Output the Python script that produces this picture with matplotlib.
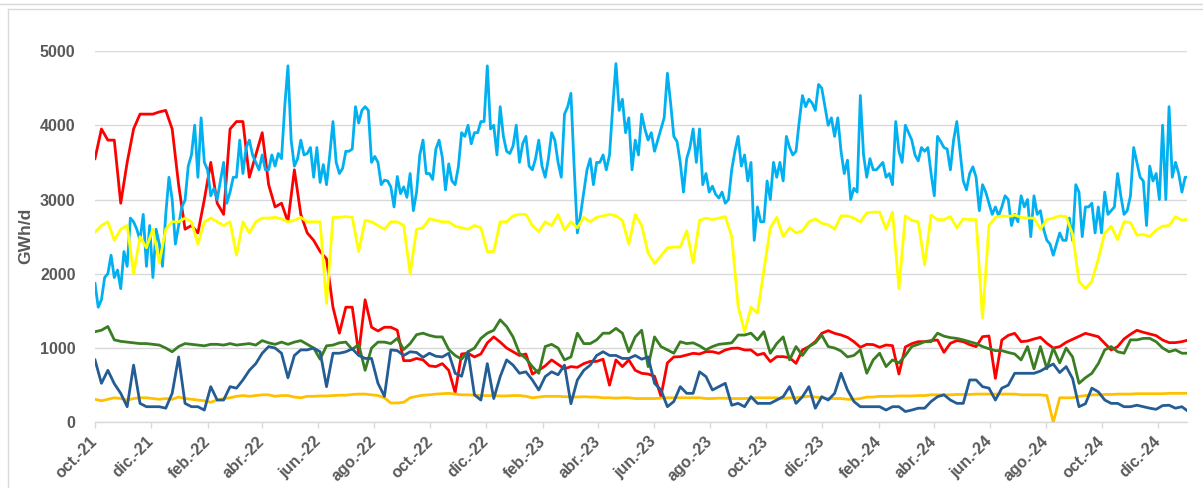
import matplotlib
matplotlib.use('Agg')
import matplotlib.pyplot as plt
import pandas as pd
from matplotlib.lines import Line2D

plt.rcParams['font.family'] = ['Liberation Sans', 'DejaVu Sans']

# ---------------- data (GWh/d) ----------------
start = '2021-10-01'

# weekly series (171 points, every 7 days from 1 Oct 2021)
red = [3550, 3950, 3800, 3800, 2950, 3500, 3950, 4150, 4150, 4150, 4180, 4200, 3950, 3200,
       2600, 2650, 2550, 3000, 3500, 2950, 2800, 3950, 4050, 4050, 3300, 3600, 3900, 3200,
       2900, 2950, 2700, 3400, 2800, 2550, 2450, 2300, 2200, 1550, 1200, 1550, 1550, 930,
       1650, 1280, 1230, 1280, 1280, 1240, 830, 830, 860, 840, 760, 750, 790, 700, 400, 920,
       930, 880, 920, 1070, 1150, 1080, 1000, 950, 900, 920, 650, 700, 760, 840, 780, 720,
       750, 740, 790, 820, 820, 850, 500, 840, 750, 840, 700, 660, 650,
       620, 350, 800, 880, 884, 906, 929, 920, 951, 951, 929, 974, 996, 1000, 974, 974,
       906, 929, 817, 884, 884, 870, 794, 974, 1019, 1086, 1198, 1234, 1198,
       1176, 1144, 1086, 1010, 1050, 1046, 1010, 1041, 1032, 650, 1014, 1059, 1086, 1086,
       1100, 1108, 942, 1064, 1100, 1086, 1046, 1019, 1153, 1162, 592, 1108, 1171, 1198,
       1086, 1095, 1122, 1144, 1064, 1000, 1019, 1077, 1117, 1158, 1198, 1176, 1153, 1064,
       974, 1019, 1122, 1185, 1239, 1212, 1189, 1167, 1108, 1073, 1073, 1086, 1108]

yellow = [2560, 2650, 2700, 2450, 2600, 2650, 2000, 2500, 2350, 2600, 2150, 2600, 2700, 2700,
          2750, 2700, 2400, 2700, 2750, 2700, 2650, 2700, 2250, 2700, 2550, 2700, 2750, 2750,
          2760, 2740, 2700, 2720, 2760, 2700, 2700, 2700, 1600, 2760, 2760, 2770, 2760, 2300,
          2720, 2700, 2650, 2600, 2700, 2700, 2650, 2000, 2600, 2620, 2740, 2720, 2700, 2700,
          2640, 2620,
          2600, 2650, 2620, 2300, 2300, 2700, 2700, 2780, 2800, 2800, 2650, 2570, 2700, 2650,
          2800, 2590, 2700, 2620, 2760, 2700, 2760, 2780, 2800, 2780, 2720, 2400, 2800, 2650,
          2280,
          2140, 2240, 2350, 2360, 2360, 2580, 2150, 2720, 2750, 2730, 2750, 2770, 2500, 1560,
          1220, 1550, 1470, 2050, 2620, 2760, 2500, 2620, 2550, 2580, 2700, 2740, 2680, 2660,
          2600,
          2780, 2780, 2750, 2700, 2820, 2830, 2830, 2600, 2830, 1800, 2780, 2720, 2700, 2120,
          2790, 2730, 2730, 2770, 2620, 2740, 2730, 2730, 1400, 2650, 2760, 2780, 2770, 2790,
          2760, 2750, 2750, 2600, 2730, 2750, 2780, 2770, 2530, 1900, 1800, 1900, 2200, 2550,
          2640, 2460, 2700, 2690, 2520, 2530, 2500, 2590, 2640, 2650, 2770, 2720, 2740]

green = [1220, 1240, 1290, 1110, 1090, 1080, 1070, 1060, 1060, 1050, 1040, 1000, 950, 1020,
         1060, 1050, 1040, 1030, 1050, 1050, 1040, 1060, 1040, 1050, 1060, 1040, 1100, 1070,
         1050, 1080, 1050, 1080, 1100, 1050, 1000, 850, 1030, 1040, 1070, 1080, 980, 1050,
         700, 1000, 1080, 1080, 1060, 1130, 980, 1060, 1180, 1200, 1170, 1150, 1150, 980,
         900, 850,
         950, 1000, 1130, 1200, 1240, 1380, 1290, 1150, 930, 860, 750, 660, 1020, 1050,
         1000, 840, 880, 1200, 1060, 1060, 1110, 1200, 1200, 1265, 1200, 950, 1150, 1240,
         750,
         1150, 1020, 975, 930, 1085, 1060, 1070, 1030, 975, 1020, 1050, 1060, 1070, 1175,
         1175, 1200, 1110, 1220, 930, 1060, 1150, 840, 1020, 900, 1020, 1070, 1175, 1020,
         1000,
         960, 880, 900, 975, 660, 840, 930, 750, 840, 800, 900, 1020, 1050, 1085,
         1085, 1200, 1160, 1140, 1130, 1110, 1085, 1060, 1020, 990, 965, 965, 940, 920,
         840, 1020, 720, 1020, 720, 1000, 800, 1000, 880, 525, 600, 660, 790, 975,
         1020, 950, 930, 1110, 1110, 1130, 1130, 1085, 1000, 950, 975, 930, 930]

dark_blue = [840, 525, 700, 520, 390, 210, 770, 255, 210, 210, 210, 190, 390, 880,
             255, 210, 210, 165, 480, 300, 300, 480, 460, 570, 700, 790, 930, 1020,
             1000, 930, 600, 900, 975, 975, 1000, 950, 480, 930, 930, 950, 990, 900,
             860, 860, 525, 350, 975, 965, 900, 950, 940, 875, 930, 890, 880, 930,
             660, 620,
             950, 370, 300, 790, 320, 615, 840, 770, 660, 680, 570, 435, 615, 680,
             640, 770, 250, 570, 700, 770, 900, 950, 900, 900, 860, 860, 900, 850,
             880,
             525, 435, 210, 280, 480, 390, 390, 680, 615, 435, 480, 525, 230, 255,
             210, 345, 255, 255, 255, 300, 345, 480, 255, 345, 480, 190, 345, 300,
             390,
             660, 435, 280, 210, 210, 210, 210, 165, 210, 210, 145, 165, 190, 190,
             280, 345, 370, 300, 255, 255, 570, 570, 480, 460, 300, 460, 500, 660,
             660, 660, 660, 690, 740, 785, 670, 750, 590, 210, 250, 460, 410, 300,
             255, 255, 210, 210, 230, 210, 190, 175, 225, 230, 190, 210, 145]

orange = [310, 290, 310, 330, 320, 300, 320, 330, 330, 320, 310, 320, 310, 340,
          320, 310, 300, 290, 270, 300, 320, 330, 350, 360, 350, 360, 370, 370,
          350, 360, 360, 340, 330, 350, 350, 355, 355, 360, 365, 365, 375, 380,
          380, 370, 360, 330, 260, 260, 270, 330, 350, 365, 370, 380, 385, 390,
          380, 370,
          370, 365, 360, 360, 360, 355, 355, 360, 360, 350, 330, 340, 350, 350,
          350, 345, 345, 340, 345, 340, 340, 330, 330, 325, 330, 330, 320, 320,
          320,
          320, 325, 330, 330, 330, 330, 330, 330, 320, 320, 325, 325, 320, 320,
          320, 325, 330, 330, 330, 330, 320, 330, 330, 340, 350, 340, 330, 320,
          320,
          320, 310, 310, 320, 340, 340, 350, 350, 350, 355, 355, 355, 360, 360,
          370, 370, 370, 370, 375, 375, 375, 380, 380, 380, 380, 380, 380, 380,
          370, 370, 370, 370, 360, 0, 330, 330, 330, 350, 360, 370, 370, 375,
          375, 380, 380, 380, 385, 385, 385, 385, 385, 390, 390, 390, 390]

# light-blue series, twice-weekly samples (341 points, every 3.5 days)
light_blue = [1870, 1550, 1650, 1950, 2000, 2250, 1950, 2050, 1800, 2300, 2100, 2750, 2700, 2600,
              2450, 2800, 2100, 2650, 1950, 2600, 2400, 2100, 2800, 3300, 3000, 2400, 2650, 2900,
              2990, 3450, 3600, 4000, 3300, 4100, 3500, 3400, 3050, 3150, 3000, 3250, 3500, 2950,
              3100, 3300, 3300, 3800, 3350, 3700, 3800, 3600, 3500, 3400, 3600, 3400, 3400, 3600,
              3450,
              3620, 3550, 4250, 4800, 3800, 3450, 3550, 3800, 3600, 3620, 3700, 3300, 3700, 3230,
              3470, 3200, 3600, 4050, 3500, 3350, 3420, 3650, 3650, 3680, 4250, 4030, 4200, 4250,
              4200, 3500, 3580, 3500, 3200, 3260, 3250, 3170, 2900, 3310, 3080, 3170, 3030, 3350,
              2850, 3100, 3600, 3800, 3350, 3350, 3270, 3680, 3800, 3570, 3130, 3480, 3250, 3200,
              3440,
              3900, 3850, 4000, 3750, 3900, 3900, 4050, 4050, 4800, 3950, 4000, 3600, 4250, 3850,
              3650, 3620, 3720, 4000, 3500, 3750, 3850, 3450, 3400, 3550, 3800, 3450, 3300, 3550,
              3900, 3800, 3500, 3300, 4150, 4250, 4430, 3440, 2550, 2800, 3100, 3400, 3550, 3200,
              3500, 3500, 3600, 3400, 3600, 4250, 4830, 4200, 4350, 3900, 4100, 3400, 3800, 3600,
              4150, 3950, 3800,
              3900, 3650, 3800, 3950, 4100, 4700, 4300, 3850, 3780, 3500, 3100, 3550, 3700, 3950,
              3500, 3950, 3200, 3350, 3100, 3180, 3070, 3020, 3100, 2950, 3000, 3400, 3650, 3850,
              3450, 3600, 3250, 3500, 2450, 2900, 2700, 2700, 3250, 3000, 3500, 3300, 3500, 3250,
              3850, 3700, 3600, 3650, 4050, 4400, 4250, 4350, 4300, 4200, 4550, 4500, 4250, 4000,
              4100,
              3850, 4100, 3650, 3350, 3530, 3000, 3150, 3100, 4400, 3600, 3300, 3550, 3400, 3400,
              3450, 3500, 3300, 3350, 3200, 4050, 3650, 3500, 4000, 3900, 3800, 3600, 3520, 3700,
              3650, 3700, 3350, 3050, 3850, 3780, 3700, 3680, 3400, 3800, 4050, 3650, 3250, 3130,
              3350, 3440, 3300, 2850, 3200, 3100, 2950, 2800, 2900, 2780, 2900, 3050, 3000, 2650,
              2800, 2700,
              3050, 2900, 3000, 2500, 3050, 2800, 2850, 2600, 2450, 2400, 2250, 2400, 2550, 2450,
              2450, 2750, 2450, 3200, 3100, 2500, 2900, 2900, 2950, 2550, 2900, 2550, 3100, 2800,
              2850, 2900, 3350, 3050, 2800, 2850, 3050, 3700, 3500, 3300, 3250, 2650, 3450, 3250,
              3350, 3000, 4000, 3000, 4250, 3300, 3500, 3350, 3100, 3300, 3300]

tick_labels = ['oct.-21', 'dic.-21', 'feb.-22', 'abr.-22', 'jun.-22', 'ago.-22', 'oct.-22',
               'dic.-22', 'feb.-23', 'abr.-23', 'jun.-23', 'ago.-23', 'oct.-23', 'dic.-23',
               'feb.-24', 'abr.-24', 'jun.-24', 'ago.-24', 'oct.-24', 'dic.-24']

weekly_dates = pd.date_range(start, periods=len(red), freq='7D')
lb_dates = pd.date_range(start, periods=len(light_blue), freq='84h')
tick_dates = pd.date_range(start, periods=len(tick_labels), freq='2MS')

# ---------------- figure ----------------
W, H = 1203, 488
fig = plt.figure(figsize=(W / 100, H / 100), dpi=100)
ax = fig.add_axes([95 / W, (H - 422.3) / H, (1186.5 - 95) / W, (422.3 - 51) / H])

lw = 2.0
ax.plot(weekly_dates, red, color='#FF0000', lw=lw, zorder=3)
ax.plot(lb_dates, light_blue, color='#00B0F0', lw=lw, zorder=3)
ax.plot(weekly_dates, yellow, color='#FFFF00', lw=lw, zorder=3)
ax.plot(weekly_dates, green, color='#3A7D22', lw=lw, zorder=3)
ax.plot(weekly_dates, orange, color='#FFC000', lw=lw, zorder=3)
ax.plot(weekly_dates, dark_blue, color='#245C94', lw=lw, zorder=3)

ax.set_xlim(pd.Timestamp(start), pd.Timestamp(start) + pd.Timedelta(days=1188))
ax.set_ylim(0, 5000)
ax.set_yticks(range(0, 5001, 1000))
ax.yaxis.grid(True, color='#D9D9D9', lw=1)
ax.set_axisbelow(True)
for s in ['top', 'right', 'left']:
    ax.spines[s].set_visible(False)
ax.spines['bottom'].set_color('#D9D9D9')
ax.spines['bottom'].set_linewidth(1)

ax.set_xticks(tick_dates)
ax.set_xticklabels(tick_labels, rotation=45, ha='right', va='center',
                   rotation_mode='anchor', fontweight='bold')
ax.tick_params(axis='x', length=4, color='#D9D9D9', width=1, pad=8,
               labelsize=11.5, labelcolor='#595959')
ax.tick_params(axis='y', length=0, pad=14, labelsize=11.5, labelcolor='#595959')
for t in ax.get_yticklabels():
    t.set_fontweight('bold')

fig.text(26 / W, 1 - 236 / H, 'GWh/d', rotation=90, ha='center', va='center',
         fontsize=12.5, fontweight='bold', color='#595959')

# chart borders
fig.add_artist(Line2D([8 / W, 8 / W], [0, 1 - 9 / H], transform=fig.transFigure,
                      color='#D9D9D9', lw=1))
fig.add_artist(Line2D([8 / W, 1], [1 - 9 / H, 1 - 9 / H], transform=fig.transFigure,
                      color='#D9D9D9', lw=1))
fig.add_artist(Line2D([0, 1], [1 - 4 / H, 1 - 4 / H], transform=fig.transFigure,
                      color='#D9D9D9', lw=1))

fig.savefig('out.png', dpi=100)
